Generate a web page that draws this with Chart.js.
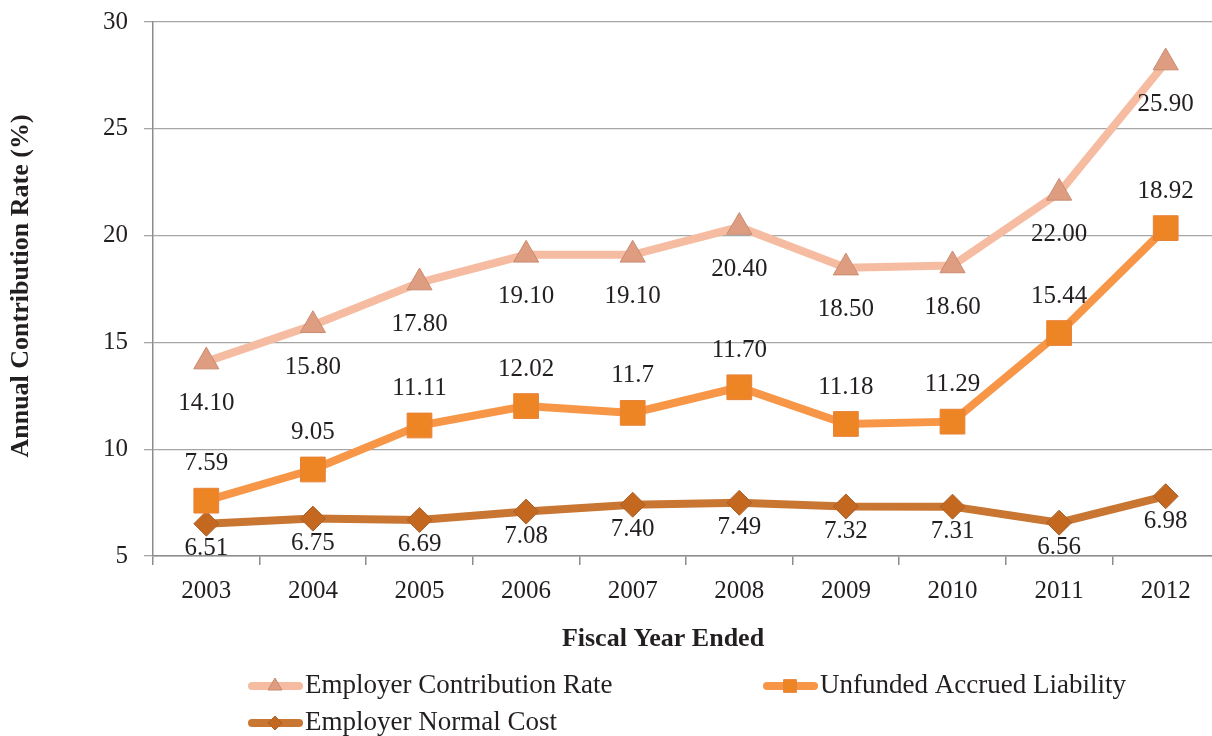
<!DOCTYPE html>
<html>
<head>
<meta charset="utf-8">
<script src="https://cdn.jsdelivr.net/npm/chart.js@4.4.1/dist/chart.umd.min.js"></script>
<style>
  html, body { margin: 0; padding: 0; background: #fff; overflow: hidden; }
  #wrap { width: 1222px; height: 736px; }
</style>
</head>
<body>
<div id="wrap"><canvas id="chart" width="1222" height="736"></canvas></div>
<script>
// Données
const years = ['2003', '2004', '2005', '2006', '2007', '2008', '2009', '2010', '2011', '2012'];
const contributionRate = [14.1, 15.8, 17.8, 19.1, 19.1, 20.4, 18.5, 18.6, 22.0, 28.1];
const contributionLabels = ['14.10', '15.80', '17.80', '19.10', '19.10', '20.40', '18.50', '18.60', '22.00', '25.90'];
const unfundedLiability = [7.59, 9.05, 11.11, 12.02, 11.7, 12.9, 11.18, 11.29, 15.44, 20.35];
const unfundedLabels = ['7.59', '9.05', '11.11', '12.02', '11.7', '11.70', '11.18', '11.29', '15.44', '18.92'];
const normalCost = [6.51, 6.75, 6.69, 7.08, 7.40, 7.49, 7.32, 7.31, 6.56, 7.8];
const normalLabels = ['6.51', '6.75', '6.69', '7.08', '7.40', '7.49', '7.32', '7.31', '6.56', '6.98'];
const yMin = 5, yMax = 30, yStep = 5;

const FONT = '"Liberation Serif", "Times New Roman", serif';
const TEXT_COLOR = '#231f20';

// Étiquettes de valeurs au-dessus / en dessous des points
const valueLabelsPlugin = {
    id: 'valueLabels',
    afterDatasetsDraw(chart) {
        const ctx = chart.ctx;
        ctx.save();
        ctx.font = '25px ' + FONT;
        ctx.fillStyle = TEXT_COLOR;
        ctx.textAlign = 'center';
        ctx.textBaseline = 'middle';
        chart.data.datasets.forEach((ds, i) => {
            const meta = chart.getDatasetMeta(i);
            meta.data.forEach((pt, j) => {
                ctx.fillText(ds.valueLabels[j], pt.x, pt.y + ds.labelOffset);
            });
        });
        ctx.restore();
    }
};

// Titres des axes et légende dessinés à la main
const decorPlugin = {
    id: 'decor',
    afterDraw(chart) {
        const ctx = chart.ctx;
        ctx.save();
        ctx.fillStyle = TEXT_COLOR;
        ctx.font = 'bold 26px ' + FONT;
        ctx.textAlign = 'center';
        ctx.textBaseline = 'middle';
        ctx.fillText('Fiscal Year Ended', 663, 639);
        ctx.save();
        ctx.translate(21, 286);
        ctx.rotate(-Math.PI / 2);
        ctx.fillText('Annual Contribution Rate (%)', 0, 0);
        ctx.restore();

        const items = [
            { ds: 0, x: 248, y: 686 },
            { ds: 1, x: 763, y: 686 },
            { ds: 2, x: 248, y: 723 }
        ];
        items.forEach(it => {
            const ds = chart.data.datasets[it.ds];
            ctx.strokeStyle = ds.borderColor;
            ctx.lineWidth = 8;
            ctx.lineCap = 'round';
            ctx.beginPath();
            ctx.moveTo(it.x + 4, it.y);
            ctx.lineTo(it.x + 51, it.y);
            ctx.stroke();
            ctx.lineCap = 'butt';
            ctx.fillStyle = ds.pointBackgroundColor;
            ctx.strokeStyle = ds.pointBorderColor;
            ctx.lineWidth = 1;
            Chart.helpers.drawPoint(ctx, {
                pointStyle: ds.pointStyle,
                radius: ds.legendRadius,
                borderWidth: 1
            }, it.x + 27, it.y);
            ctx.fillStyle = TEXT_COLOR;
            ctx.font = '27px ' + FONT;
            ctx.textAlign = 'left';
            ctx.fillText(ds.label, it.x + 57, it.y);
        });
        ctx.restore();
    }
};

const ctx = document.getElementById('chart').getContext('2d');
const chart = new Chart(ctx, {
    type: 'line',
    data: {
        labels: years,
        datasets: [
            {
                label: 'Employer Contribution Rate',
                data: contributionRate,
                valueLabels: contributionLabels,
                labelOffset: 42,
                borderColor: '#F5BCA1',
                borderWidth: 8,
                pointStyle: 'triangle',
                pointRadius: 14.5,
                legendRadius: 8,
                pointBackgroundColor: '#DE9D80',
                pointBorderColor: '#C88B70',
                pointBorderWidth: 1,
                tension: 0
            },
            {
                label: 'Unfunded Accrued Liability',
                data: unfundedLiability,
                valueLabels: unfundedLabels,
                labelOffset: -37,
                borderColor: '#F79646',
                borderWidth: 8,
                pointStyle: 'rect',
                pointRadius: 17.5,
                legendRadius: 9,
                pointBackgroundColor: '#EE8525',
                pointBorderColor: '#E7833A',
                pointBorderWidth: 1,
                tension: 0
            },
            {
                label: 'Employer Normal Cost',
                data: normalCost,
                valueLabels: normalLabels,
                labelOffset: 25,
                borderColor: '#C97633',
                borderWidth: 8,
                pointStyle: 'rectRot',
                pointRadius: 12.5,
                legendRadius: 7,
                pointBackgroundColor: '#C5681F',
                pointBorderColor: '#A8612C',
                pointBorderWidth: 1,
                tension: 0
            }
        ]
    },
    options: {
        responsive: false,
        animation: false,
        devicePixelRatio: 1,
        layout: { autoPadding: false, padding: { top: 22, right: 3, left: 0, bottom: 0 } },
        plugins: {
            legend: { display: false },
            tooltip: { enabled: false }
        },
        scales: {
            x: {
                offset: true,
                afterFit(scale) {
                    scale.height = 180;
                    scale.paddingLeft = 0;
                    scale.paddingRight = 0;
                },
                grid: {
                    offset: true,
                    drawOnChartArea: false,
                    drawTicks: true,
                    tickLength: 9,
                    color: '#8C8C8C',
                    lineWidth: 1.5
                },
                border: { color: '#8C8C8C', width: 1.5 },
                ticks: {
                    color: TEXT_COLOR,
                    font: { family: FONT, size: 25 },
                    padding: 11,
                    maxRotation: 0
                }
            },
            y: {
                min: yMin,
                max: yMax,
                afterFit(scale) {
                    scale.width = 153;
                    scale.paddingTop = 0;
                    scale.paddingBottom = 0;
                },
                grid: {
                    color: '#A6A6A6',
                    lineWidth: 1.3,
                    tickLength: 9
                },
                border: { color: '#8C8C8C', width: 1.5 },
                ticks: {
                    stepSize: yStep,
                    color: TEXT_COLOR,
                    font: { family: FONT, size: 25 },
                    padding: 16
                }
            }
        }
    },
    plugins: [valueLabelsPlugin, decorPlugin]
});
</script>
</body>
</html>
